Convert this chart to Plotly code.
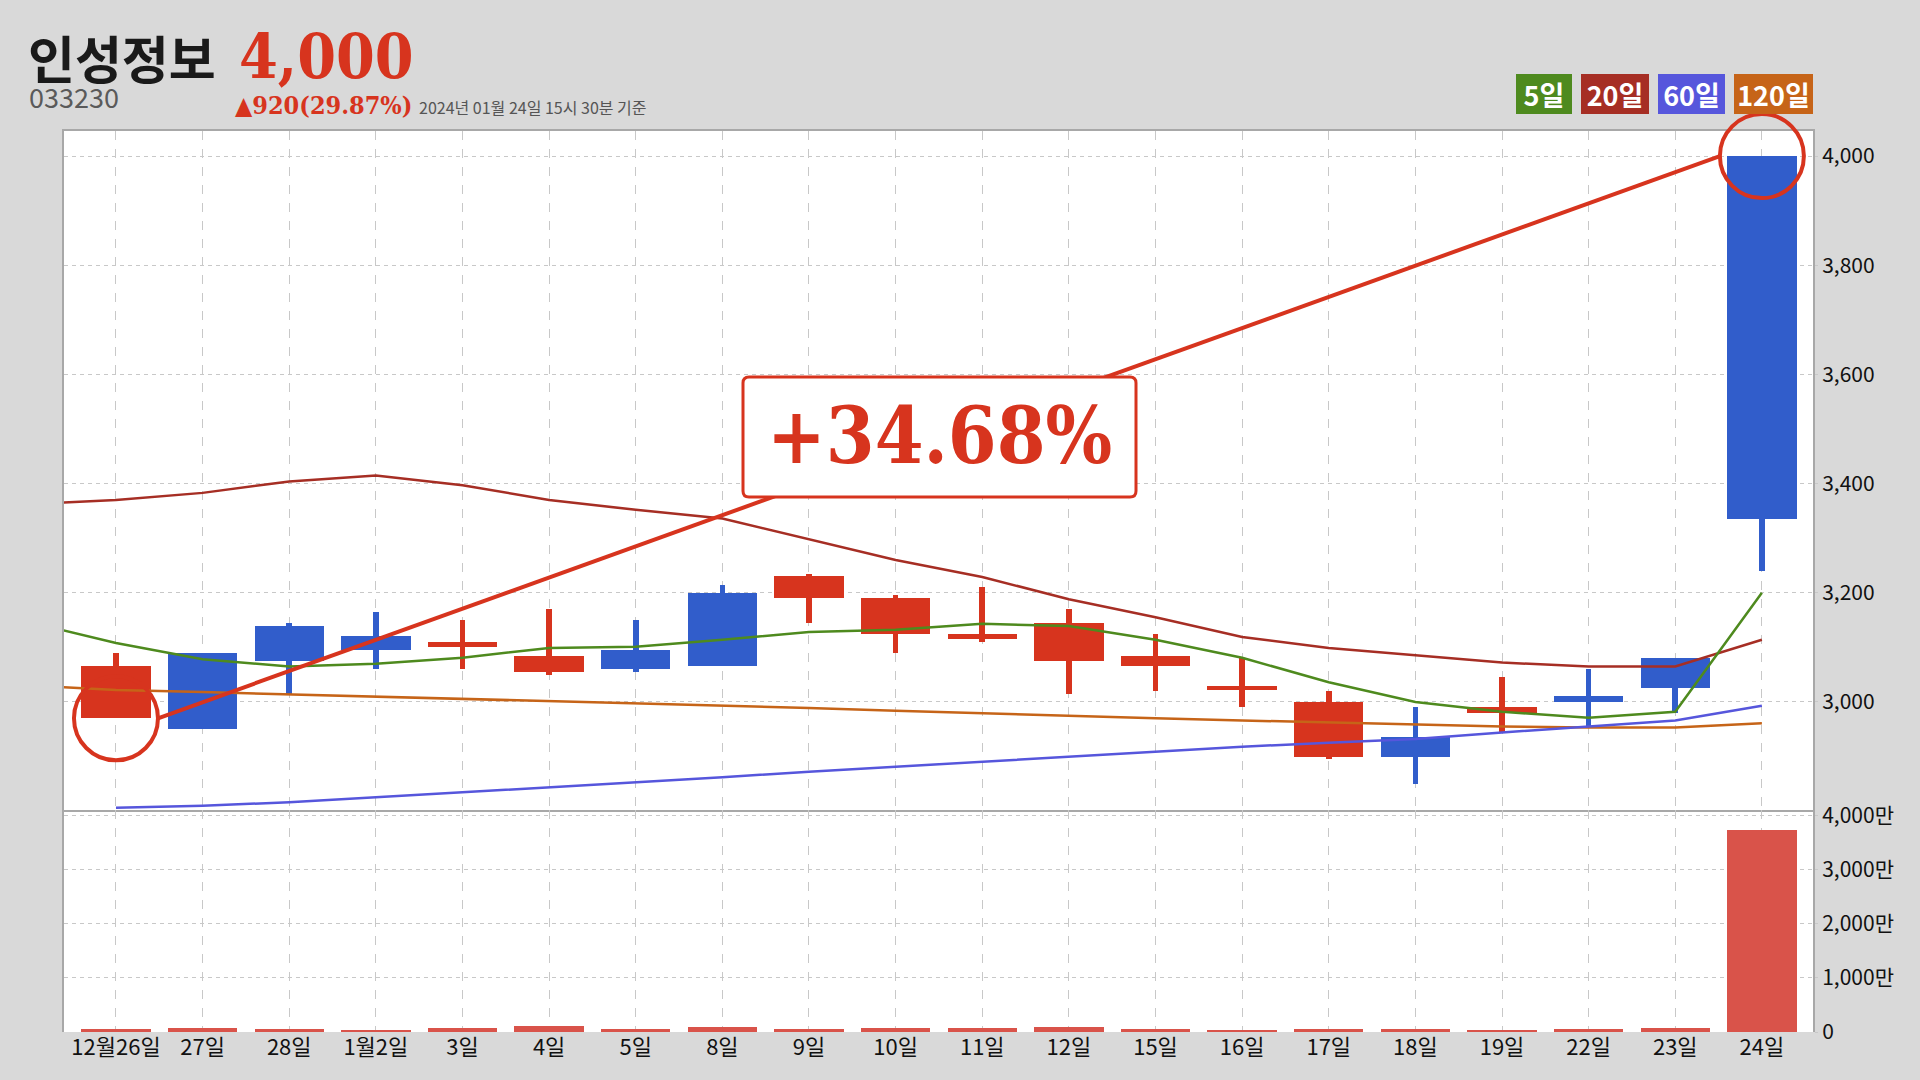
import plotly.graph_objects as go

# ---------------- data ----------------
dates = ["12월26일", "27일", "28일", "1월2일", "3일", "4일", "5일", "8일", "9일", "10일",
         "11일", "12일", "15일", "16일", "17일", "18일", "19일", "22일", "23일", "24일"]
opens = [3065, 2950, 3075, 3095, 3110, 3085, 3060, 3065, 3230, 3190,
         3125, 3145, 3085, 3030, 3000, 2900, 2990, 3000, 3025, 3335]
highs = [3090, 3090, 3145, 3165, 3150, 3170, 3150, 3215, 3235, 3195,
         3210, 3170, 3125, 3080, 3020, 2990, 3045, 3060, 3080, 4000]
lows = [2970, 2950, 3015, 3060, 3060, 3050, 3055, 3065, 3145, 3090,
        3110, 3015, 3020, 2990, 2895, 2850, 2945, 2955, 2980, 3240]
closes = [2970, 3090, 3140, 3120, 3100, 3055, 3095, 3200, 3190, 3125,
          3115, 3075, 3065, 3022, 2900, 2935, 2980, 3010, 3080, 4000]
volumes = [0.62e6, 0.80e6, 0.56e6, 0.43e6, 0.68e6, 1.05e6, 0.56e6, 0.86e6, 0.62e6, 0.68e6,
           0.74e6, 0.86e6, 0.49e6, 0.31e6, 0.49e6, 0.49e6, 0.43e6, 0.56e6, 0.68e6, 3.74e7]

# moving averages: first value is the trading day before 12/26
ma5 = [3146, 3108, 3078, 3065, 3070, 3081, 3099, 3101, 3114, 3128, 3132,
       3143, 3139, 3114, 3081, 3036, 3000, 2982, 2971, 2982, 3200]
ma20 = [3362, 3370, 3383, 3404, 3415, 3397, 3370, 3352, 3336, 3298, 3260,
        3229, 3188, 3155, 3119, 3099, 3085, 3072, 3065, 3065, 3114]
ma60 = [None, 2806, 2810, 2816, 2825, 2834, 2843, 2852, 2862, 2872, 2881,
        2890, 2899, 2908, 2918, 2925, 2932, 2944, 2955, 2966, 2993]
ma120 = [3030, 3022, 3018, 3014, 3010, 3006, 3002, 2998, 2994, 2989, 2984,
         2979, 2974, 2970, 2966, 2962, 2958, 2955, 2953, 2953, 2961]

price_ticks = [3000, 3200, 3400, 3600, 3800, 4000]
vol_ticks = [0, 1e7, 2e7, 3e7, 4e7]
vol_ticktext = ["0", "1,000만", "2,000만", "3,000만", "4,000만"]

ma_labels = ["5일", "20일", "60일", "120일"]
change_text = "+34.68%"

# ---------------- layout constants ----------------
W, H = 1920, 1080
L, R, T, B = 64, 107, 131, 48
PW, PH = W - L - R, H - T - B
XMIN, XMAX = -0.6, 19.59
YMIN, YMAX = 2802, 4046
VMAX = 4.11e7
SPLIT = 0.2464

RED = "#d7341e"
BLUE = "#315dcb"
VOLRED = "#d9534a"
C5, C20, C60, C120 = "#4e8a1e", "#a62e24", "#5656dc", "#c66418"
GRID = "#c8c8c8"
BORDER = "#a8a8a8"
BG = "#d9d9d9"
SERIF = "DejaVu Serif Condensed, DejaVu Serif, serif"
SANS = "Noto Sans CJK KR, Noto Sans, sans-serif"


def px2x(px):
    return (px - L) / PW


def py2y(py):
    return (H - B - py) / PH


def data_px(i, v):
    px = L + (i - XMIN) / (XMAX - XMIN) * PW
    ph = PH * (1 - SPLIT)
    py = T + (YMAX - v) / (YMAX - YMIN) * ph
    return px, py


idx = list(range(len(dates)))
ma_x = list(range(-1, len(dates)))
colors = [BLUE if c >= o else RED for o, c in zip(opens, closes)]

fig = go.Figure()

# wicks
fig.add_trace(go.Bar(
    x=idx, y=[h - l for h, l in zip(highs, lows)], base=lows, width=0.065,
    marker=dict(color=colors, line=dict(width=0)), xaxis="x", yaxis="y",
    showlegend=False, hoverinfo="skip"))
# bodies
fig.add_trace(go.Bar(
    x=idx, y=[abs(c - o) for o, c in zip(opens, closes)],
    base=[min(o, c) for o, c in zip(opens, closes)], width=0.8,
    marker=dict(color=colors, line=dict(width=0)), xaxis="x", yaxis="y",
    showlegend=False))

# moving averages
for vals, col in [(ma120, C120), (ma60, C60), (ma20, C20), (ma5, C5)]:
    fig.add_trace(go.Scatter(x=ma_x, y=vals, mode="lines",
                             line=dict(color=col, width=2.5),
                             xaxis="x", yaxis="y", showlegend=False))

# the rise line (circle edge to circle edge)
rad = 42
r_cat = rad / (PW / (XMAX - XMIN))
fig.add_trace(go.Scatter(x=[idx[0] + r_cat, idx[-1] - r_cat], y=[closes[0], closes[-1]],
                         mode="lines", line=dict(color=RED, width=4),
                         xaxis="x", yaxis="y", showlegend=False))

# volume
fig.add_trace(go.Bar(x=idx, y=volumes, width=0.8,
                     marker=dict(color=VOLRED, line=dict(width=0)),
                     xaxis="x2", yaxis="y2", showlegend=False))

shapes = []
# circles
for i, v in [(idx[0], closes[0]), (idx[-1], closes[-1])]:
    cx, cy = data_px(i, v)
    shapes.append(dict(type="circle", xref="paper", yref="paper",
                       x0=px2x(cx - rad), x1=px2x(cx + rad),
                       y0=py2y(cy + rad), y1=py2y(cy - rad),
                       line=dict(color=RED, width=4), layer="above"))

# rounded box for percentage label
bx0, bx1, by0, by1 = 743, 1136, 377, 497
rr = 6
X0, X1 = px2x(bx0), px2x(bx1)
Yt, Yb = py2y(by0), py2y(by1)
rx, ry = rr / PW, rr / PH
path = (f"M {X0+rx},{Yt} L {X1-rx},{Yt} Q {X1},{Yt} {X1},{Yt-ry} "
        f"L {X1},{Yb+ry} Q {X1},{Yb} {X1-rx},{Yb} L {X0+rx},{Yb} "
        f"Q {X0},{Yb} {X0},{Yb+ry} L {X0},{Yt-ry} Q {X0},{Yt} {X0+rx},{Yt} Z")
shapes.append(dict(type="path", xref="paper", yref="paper", path=path,
                   fillcolor="white", line=dict(color=RED, width=3), layer="above"))

annotations = []
annotations.append(dict(text=change_text, xref="paper", yref="paper",
                        x=px2x((bx0 + bx1) / 2), y=py2y((by0 + by1) / 2 - 2),
                        xanchor="center", yanchor="middle", showarrow=False,
                        font=dict(family=SERIF, size=78, color=RED, weight="bold")))


# header texts
def head(text, px, py, size, color, family, bold=False):
    annotations.append(dict(text=text, xref="paper", yref="paper",
                            x=px2x(px), y=py2y(py), xanchor="left", yanchor="middle",
                            showarrow=False, borderpad=0,
                            font=dict(family=family, size=size, color=color,
                                      weight="bold" if bold else "normal")))


head("인성정보", 27, 57, 51, "#1a1a1a", SANS, True)
head("4,000", 238, 57, 62, RED, SERIF, True)
head("033230", 28, 96, 27, "#5a5a5a", SANS)
head("▲920(29.87%)", 234, 106, 25, RED, SERIF, True)
head("2024년 01월 24일 15시 30분 기준", 418, 107, 16, "#555555", SANS)

# MA legend badges
badges = [(1516, 1572, C5), (1581, 1649, C20), (1658, 1725, C60), (1734, 1813, C120)]
for lab, (x0, x1, col) in zip(ma_labels, badges):
    annotations.append(dict(text=lab, xref="paper", yref="paper",
                            x=px2x(x0), y=py2y(74), xanchor="left", yanchor="top",
                            width=x1 - x0, height=40, align="center", valign="middle",
                            bgcolor=col, borderwidth=0, borderpad=0, showarrow=False,
                            font=dict(family=SANS, size=27, color="white", weight="bold")))

ytickfont = dict(family=SANS, size=21, color="#111111")
xtickfont = dict(family=SANS, size=22, color="#111111")

fig.update_layout(
    width=W, height=H,
    margin=dict(l=L, r=R, t=T, b=B),
    paper_bgcolor=BG, plot_bgcolor="white",
    barmode="overlay", bargap=0,
    showlegend=False,
    shapes=shapes, annotations=annotations,
    xaxis=dict(domain=[0, 1], anchor="y", range=[XMIN, XMAX],
               tickvals=idx, showticklabels=False, ticks="",
               showgrid=True, gridcolor=GRID, griddash="dash", gridwidth=1,
               showline=True, mirror=True, linecolor=BORDER, linewidth=2,
               zeroline=False),
    yaxis=dict(domain=[SPLIT, 1], anchor="x", range=[YMIN, YMAX], side="right",
               tickvals=price_ticks, tickformat=",", tickfont=ytickfont,
               ticks="outside", ticklen=3, tickcolor=GRID,
               showgrid=True, gridcolor=GRID, griddash="4px,4px", gridwidth=1,
               showline=True, mirror=True, linecolor=BORDER, linewidth=2,
               zeroline=False),
    xaxis2=dict(domain=[0, 1], anchor="y2", range=[XMIN, XMAX], matches="x",
                tickvals=idx, ticktext=dates, tickfont=xtickfont, ticks="",
                showgrid=True, gridcolor=GRID, griddash="dash", gridwidth=1,
                showline=False, zeroline=False),
    yaxis2=dict(domain=[0, SPLIT], anchor="x2", range=[0, VMAX], side="right",
                tickvals=vol_ticks, ticktext=vol_ticktext, tickfont=ytickfont,
                ticks="outside", ticklen=3, tickcolor=GRID,
                showgrid=True, gridcolor=GRID, griddash="4px,4px", gridwidth=1,
                showline=True, mirror=True, linecolor=BORDER, linewidth=2,
                zeroline=False),
)

fig.write_html("out.html",
               config={"displayModeBar": False},
               post_script="document.body.style.margin='0';document.body.style.padding='0';"
                           "document.body.style.overflow='hidden';")
